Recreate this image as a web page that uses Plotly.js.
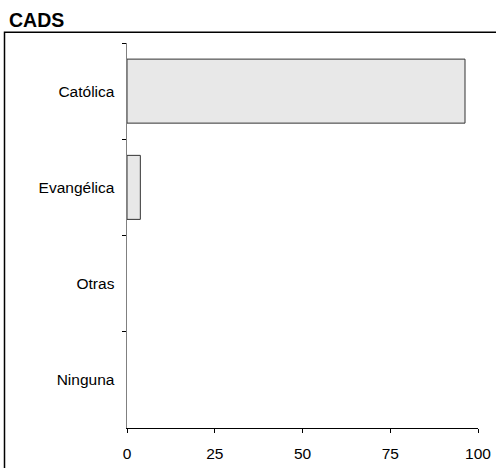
<!DOCTYPE html>
<html>
<head>
<meta charset="utf-8">
<script src="https://cdn.plot.ly/plotly-3.0.1.min.js"></script>
<style>html,body{margin:0;padding:0;background:#fff;}#chart{width:496px;height:468px;}</style>
</head>
<body>
<div id="chart"></div>
<script>
const categories = ["Católica", "Evangélica", "Otras", "Ninguna"];
const values = [96.3, 3.8, 0, 0];
const xTicks = [0, 25, 50, 75, 100];
const chartTitle = "CADS";

const trace = {
  type: "bar",
  orientation: "h",
  y: categories,
  x: values,
  width: 0.665,
  marker: {color: "#e8e8e8", line: {color: "#333333", width: values.map(v => v > 0 ? 1 : 0)}},
  hoverinfo: "none"
};

const layout = {
  width: 496, height: 468,
  margin: {l: 127, r: 17.7, t: 43.3, b: 39.7, pad: 0},
  paper_bgcolor: "#ffffff",
  plot_bgcolor: "#ffffff",
  font: {family: "Liberation Sans, Arial, sans-serif", size: 15.5, color: "#000"},
  title: {text: "<b>" + chartTitle + "</b>", x: 9 / 496, xanchor: "left", y: 1 - 20 / 468, yanchor: "middle",
          xref: "container", yref: "container",
          font: {size: 19.5, color: "#000", family: "Liberation Sans, Arial, sans-serif"}},
  showlegend: false,
  bargap: 0.335,
  xaxis: {
    range: [0, 100], tickvals: xTicks, ticktext: xTicks.map(String),
    showgrid: false, zeroline: false, showline: true, linecolor: "#000", linewidth: 1,
    ticks: "outside", ticklen: 4, tickcolor: "#000", tickwidth: 1,
    ticklabelstandoff: 7,
    tickfont: {size: 15.5}, fixedrange: true
  },
  yaxis: {
    type: "category", categoryorder: "array", categoryarray: categories,
    autorange: "reversed", showgrid: false, zeroline: false,
    showline: true, linecolor: "#808080", linewidth: 1.5,
    ticks: "outside", tickson: "boundaries", ticklen: 4, tickcolor: "#000", tickwidth: 1,
    ticklabelstandoff: 8,
    tickfont: {size: 15.5}, fixedrange: true
  },
  shapes: [{
    type: "rect", xref: "paper", yref: "paper",
    x0: -0.349, x1: 1.3, y0: -0.3, y1: 1.028,
    line: {color: "#000", width: 1.5}, fillcolor: "rgba(0,0,0,0)", layer: "below"
  }]
};

Plotly.newPlot("chart", [trace], layout, {displayModeBar: false, staticPlot: true});
</script>
</body>
</html>
